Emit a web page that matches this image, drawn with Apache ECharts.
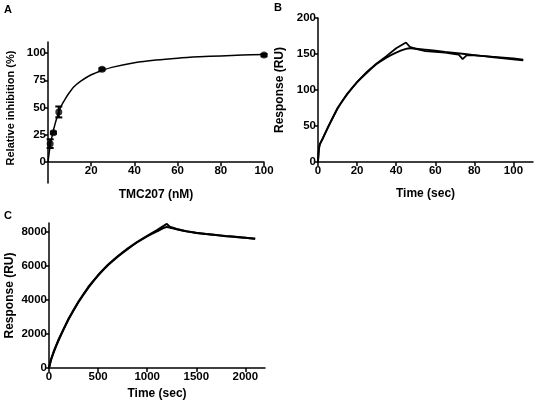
<!DOCTYPE html>
<html>
<head>
<meta charset="utf-8">
<script src="https://cdn.jsdelivr.net/npm/echarts@6/dist/echarts.min.js"></script>
<style>
html,body{margin:0;padding:0;background:#fff;}
#chart{width:537px;height:405px;}
</style>
</head>
<body>
<div id="chart"></div>
<script>
// ---- Panel A: inhibition vs TMC207 concentration ----
var aConc = [1, 2.5, 5, 25, 100];
var aInhib = [17, 27, 46, 85, 98];
var aErrLow = [13, 26, 41, 84, 97];
var aErrHigh = [21, 28, 51, 86, 99];
var aFitX = [0, 0.5, 1, 2, 3, 4, 5, 6, 8, 10, 12, 15, 20, 25, 30, 40, 50, 60, 70, 80, 90, 100];
var aFitY = [0, 8, 15, 25, 33, 40, 46, 51, 58, 64, 69, 74, 80, 84, 87, 91, 93.5, 95.2, 96.4, 97.3, 98, 98.5];
var aXTicks = [20, 40, 60, 80, 100];
var aYTicks = [0, 25, 50, 75, 100];

// ---- Panel B: SPR sensorgram (short) ----
var bTime = [0, 0.5, 1, 2.5, 5, 10, 15, 20, 25, 30, 35, 40, 45, 47, 50, 55, 60, 65, 70, 72, 74, 76, 80, 85, 90, 95, 100, 105];
var bResp = [0, 18, 25, 33, 48, 75, 95, 111, 125, 137, 147, 158, 166, 160, 157, 154, 153, 152, 150, 149, 143, 148, 148, 147, 146, 145, 144, 142];
var bFitTime = [0, 0.5, 1, 2.5, 5, 10, 15, 20, 25, 30, 35, 40, 45, 47, 55, 65, 75, 85, 95, 105];
var bFitResp = [0, 20, 25, 33, 47, 74, 94, 111, 124, 136, 145, 152, 157, 158, 156, 153, 150, 147, 144, 141];
var bXTicks = [0, 20, 40, 60, 80, 100];
var bYTicks = [0, 50, 100, 150, 200];

// ---- Panel C: SPR sensorgram (long) ----
var cTime = [0, 20, 50, 100, 200, 300, 400, 500, 600, 700, 800, 900, 1000, 1100, 1200, 1230, 1300, 1400, 1500, 1600, 1700, 1800, 1900, 2000, 2100];
var cResp = [0, 500, 1000, 1700, 2900, 3900, 4750, 5450, 6050, 6550, 7000, 7400, 7750, 8080, 8450, 8280, 8150, 8020, 7930, 7860, 7800, 7740, 7690, 7640, 7580];
var cFitTime = [0, 20, 50, 100, 200, 300, 400, 500, 600, 700, 800, 900, 1000, 1100, 1200, 1300, 1400, 1500, 1600, 1700, 1800, 1900, 2000, 2100];
var cFitResp = [0, 450, 950, 1650, 2850, 3850, 4700, 5420, 6020, 6530, 6970, 7370, 7720, 8010, 8270, 8130, 8010, 7920, 7850, 7790, 7730, 7680, 7630, 7570];
var cXTicks = [0, 500, 1000, 1500, 2000];
var cYTicks = [0, 2000, 4000, 6000, 8000];

var FONT = 'Liberation Sans';
function pairs(xs, ys) { return xs.map(function (x, i) { return [x, ys[i]]; }); }
function plain(v) { return String(v); }

function xAx(gi, min, max, ticks, name, gap, offset) {
  return {
    type: 'value', gridIndex: gi, min: min, max: max, name: name, offset: offset || 0,
    nameLocation: 'middle', nameGap: gap,
    nameTextStyle: { fontFamily: FONT, fontWeight: 'bold', fontSize: 12, color: '#000' },
    axisLine: { onZero: false, lineStyle: { color: '#000', width: 1.5 } },
    axisTick: { customValues: ticks, length: 4, lineStyle: { color: '#000', width: 1.5 } },
    axisLabel: { customValues: ticks, formatter: plain, margin: 3, fontFamily: FONT, fontWeight: 'bold', fontSize: 11.5, color: '#000' },
    splitLine: { show: false }
  };
}
function yAx(gi, min, max, ticks, name, gap, fs, pad) {
  return {
    type: 'value', gridIndex: gi, min: min, max: max, name: name,
    nameLocation: 'middle', nameGap: gap,
    nameTextStyle: { fontFamily: FONT, fontWeight: 'bold', fontSize: fs, color: '#000', padding: pad || 0 },
    axisLine: { onZero: false, lineStyle: { color: '#000', width: 1.5 } },
    axisTick: { customValues: ticks, length: 4, lineStyle: { color: '#000', width: 1.5 } },
    axisLabel: { customValues: ticks, formatter: plain, margin: 2, fontFamily: FONT, fontWeight: 'bold', fontSize: 11.5, color: '#000' },
    splitLine: { show: false }
  };
}

var aYMin = -19, aYMax = 110, aGridH = 141;
var chart = echarts.init(document.getElementById('chart'), null, { renderer: 'canvas' });
var option = {
  animation: false,
  backgroundColor: '#fff',
  graphic: [
    { type: 'text', left: 4, top: 4, style: { text: 'A', font: 'bold 11px "Liberation Sans"', fill: '#000' } },
    { type: 'text', left: 274, top: 2, style: { text: 'B', font: 'bold 11px "Liberation Sans"', fill: '#000' } },
    { type: 'text', left: 4, top: 210, style: { text: 'C', font: 'bold 11px "Liberation Sans"', fill: '#000' } }
  ],
  grid: [
    { left: 48, top: 42, width: 216, height: aGridH },
    { left: 318, top: 18, width: 215, height: 144 },
    { left: 49, top: 223, width: 216, height: 145 }
  ],
  xAxis: [
    xAx(0, 0, 100, aXTicks, 'TMC207 (nM)', 26, aYMin / (aYMax - aYMin) * aGridH),
    xAx(1, 0, 110, bXTicks, 'Time (sec)', 26),
    xAx(2, 0, 2200, cXTicks, 'Time (sec)', 20)
  ],
  yAxis: [
    yAx(0, aYMin, aYMax, aYTicks, 'Relative inhibition (%)', 32, 11, [0, 0, 0, 9]),
    yAx(1, 0, 200, bYTicks, 'Response (RU)', 32, 12),
    yAx(2, 0, 8500, cYTicks, 'Response (RU)', 33, 12)
  ],
  series: [
    { type: 'line', xAxisIndex: 0, yAxisIndex: 0, data: pairs(aFitX, aFitY), smooth: 0.3,
      symbol: 'none', lineStyle: { color: '#000', width: 1.5 } },
    { type: 'custom', xAxisIndex: 0, yAxisIndex: 0, data: aConc.map(function (x, i) { return [x, aErrLow[i], aErrHigh[i]]; }),
      renderItem: function (params, api) {
        var lo = api.coord([api.value(0), api.value(1)]);
        var hi = api.coord([api.value(0), api.value(2)]);
        var w = 3.5;
        return { type: 'group', children: [
          { type: 'line', shape: { x1: lo[0], y1: lo[1], x2: hi[0], y2: hi[1] }, style: { stroke: '#000', lineWidth: 2 } },
          { type: 'line', shape: { x1: lo[0] - w, y1: lo[1], x2: lo[0] + w, y2: lo[1] }, style: { stroke: '#000', lineWidth: 2 } },
          { type: 'line', shape: { x1: hi[0] - w, y1: hi[1], x2: hi[0] + w, y2: hi[1] }, style: { stroke: '#000', lineWidth: 2 } }
        ] };
      }, z: 3 },
    { type: 'scatter', xAxisIndex: 0, yAxisIndex: 0, data: pairs(aConc, aInhib), symbol: 'circle', symbolSize: 7,
      itemStyle: { color: '#000' }, z: 4 },
    { type: 'line', xAxisIndex: 1, yAxisIndex: 1, data: pairs(bTime, bResp), symbol: 'none',
      lineStyle: { color: '#000', width: 1.8 } },
    { type: 'line', xAxisIndex: 1, yAxisIndex: 1, data: pairs(bFitTime, bFitResp), symbol: 'none', smooth: 0.2,
      lineStyle: { color: '#000', width: 1.8 } },
    { type: 'line', xAxisIndex: 2, yAxisIndex: 2, data: pairs(cTime, cResp), symbol: 'none',
      lineStyle: { color: '#000', width: 2 } },
    { type: 'line', xAxisIndex: 2, yAxisIndex: 2, data: pairs(cFitTime, cFitResp), symbol: 'none', smooth: 0.2,
      lineStyle: { color: '#000', width: 2 } }
  ]
};
chart.setOption(option);
</script>
</body>
</html>
